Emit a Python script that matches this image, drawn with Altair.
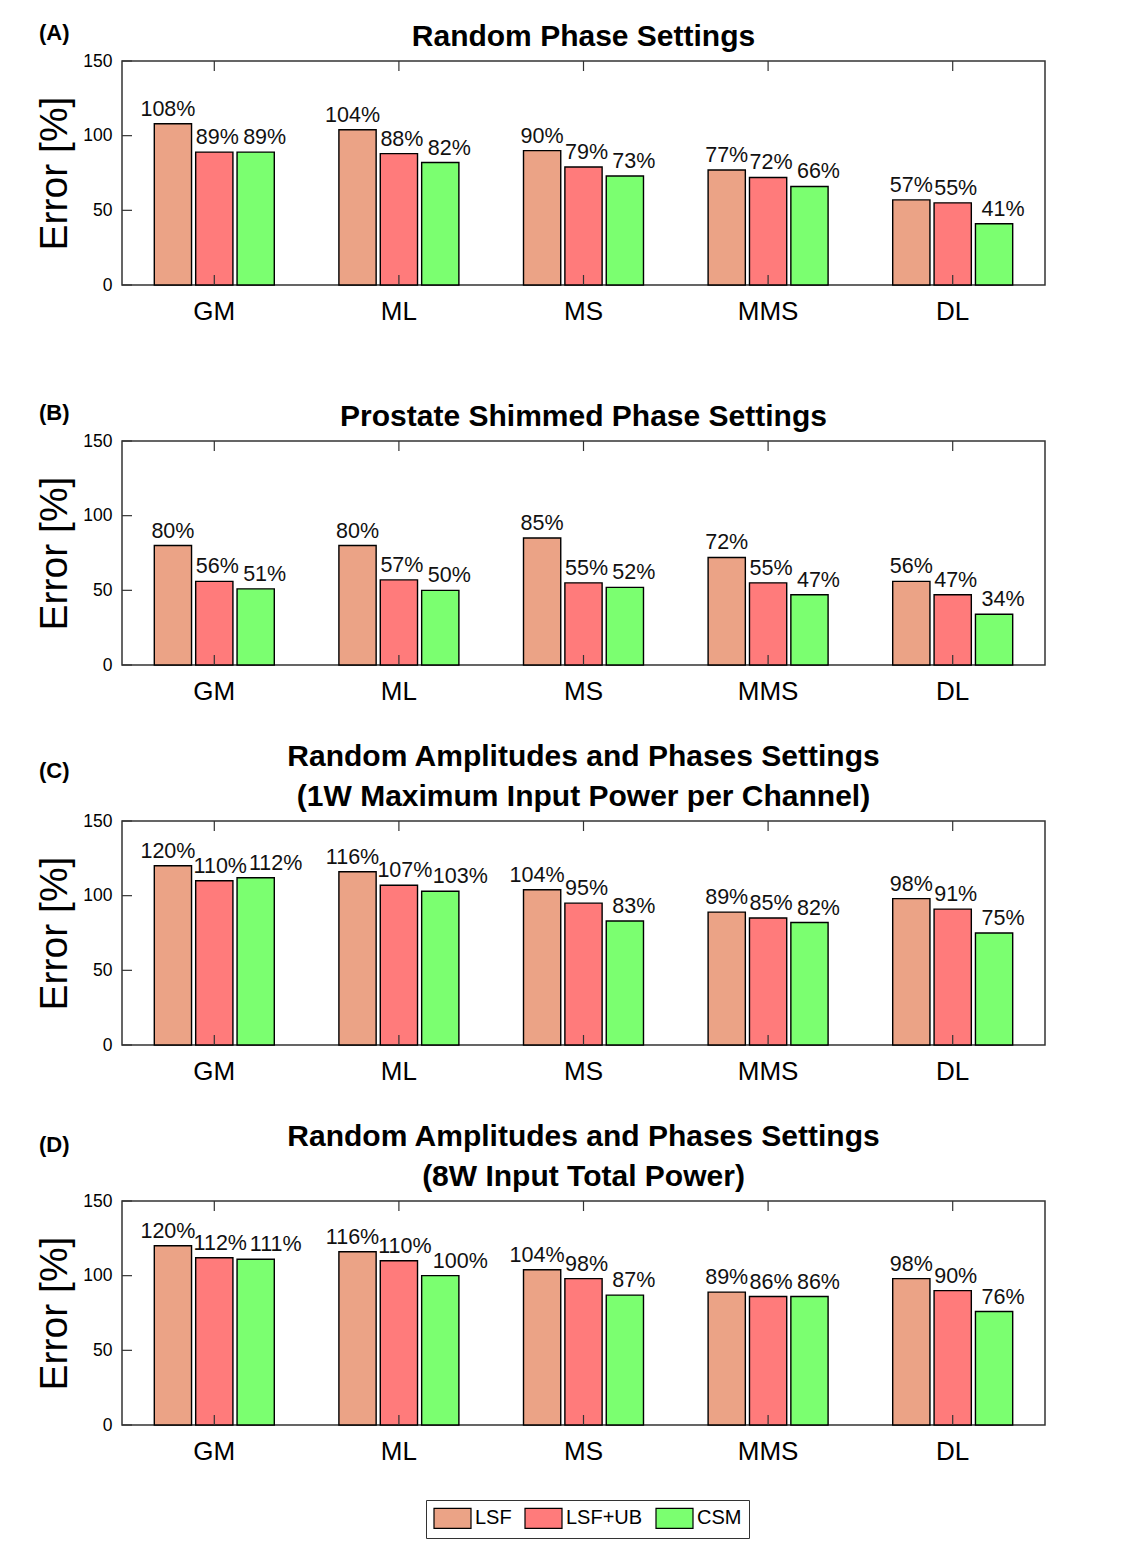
import altair as alt
import pandas as pd

groups = ["GM", "ML", "MS", "MMS", "DL"]
methods = ["LSF", "LSF+UB", "CSM"]
colors = ["#EBA386", "#FF7B7B", "#7BFF70"]

a_lsf = [108, 104, 90, 77, 57]
a_ub = [89, 88, 79, 72, 55]
a_csm = [89, 82, 73, 66, 41]

b_lsf = [80, 80, 85, 72, 56]
b_ub = [56, 57, 55, 55, 47]
b_csm = [51, 50, 52, 47, 34]

c_lsf = [120, 116, 104, 89, 98]
c_ub = [110, 107, 95, 85, 91]
c_csm = [112, 103, 83, 82, 75]

d_lsf = [120, 116, 104, 89, 98]
d_ub = [112, 110, 98, 86, 90]
d_csm = [111, 100, 87, 86, 76]

yticks = [0, 50, 100, 150]

# (letter, title lines, series, letter vertical position relative to plot top)
panels = [
    ("(A)", ["Random Phase Settings"], (a_lsf, a_ub, a_csm), -28),
    ("(B)", ["", "Prostate Shimmed Phase Settings"], (b_lsf, b_ub, b_csm), -28),
    ("(C)", ["Random Amplitudes and Phases Settings", "(1W Maximum Input Power per Channel)"], (c_lsf, c_ub, c_csm), -50),
    ("(D)", ["Random Amplitudes and Phases Settings", "(8W Input Total Power)"], (d_lsf, d_ub, d_csm), -56),
]

FONT = "Liberation Sans"
W, H = 923, 224
LETTER_SIZE = 22

xscale = alt.Scale(domain=groups, paddingInner=0.35, paddingOuter=0.175)
yscale = alt.Scale(domain=[0, 150], nice=False)
oscale = alt.Scale(domain=methods, paddingInner=0.1, paddingOuter=0)
cscale = alt.Scale(domain=methods, range=colors)

# wide swatch starting at the symbol slot's left edge
legend_symbol = "M-1,-1L2.7,-1L2.7,1L-1,1Z"

# label nudges (pixels) per method, for short (<100) and long (>=100) labels
label_dx = {"LSF": (0, -5), "LSF+UB": (3, 6), "CSM": (9, 20)}

legend = alt.Legend(orient="none", legendX=304, legendY=1439, direction="horizontal",
                    title=None, labelFontSize=20, labelFont=FONT, labelColor="black",
                    symbolType=legend_symbol, symbolSize=400, symbolStrokeColor="black",
                    symbolStrokeWidth=1.2, symbolOpacity=1, strokeColor="#333",
                    padding=7, columnPadding=10, labelOffset=20)


def make_panel(letter, title, series, letter_y):
    rows = []
    for m, vals in zip(methods, series):
        for g, v in zip(groups, vals):
            rows.append({"group": g, "method": m, "value": v, "label": f"{v}%"})
    df = pd.DataFrame(rows)

    x = alt.X("group:N", scale=xscale, sort=groups, title=None,
              axis=alt.Axis(labelAngle=0, labelFontSize=26, labelFont=FONT, labelColor="black",
                            ticks=False, domain=False, labelPadding=13))
    y = alt.Y("value:Q", scale=yscale, title="Error [%]",
              axis=alt.Axis(values=yticks, labelFontSize=17.5, labelFont=FONT, labelColor="black",
                            ticks=False, domain=False, grid=False, labelPadding=10,
                            titleFontSize=39, titleFont=FONT, titleFontWeight="normal",
                            titleColor="black", titlePadding=8))

    bars = alt.Chart(df).mark_bar(stroke="black", strokeWidth=1.4).encode(
        x=x,
        xOffset=alt.XOffset("method:N", scale=oscale, sort=methods),
        y=y,
        color=alt.Color("method:N", scale=cscale, sort=methods, legend=legend),
    )
    layers = [bars]
    for m in methods:
        for is_long, dxv in zip((False, True), label_dx[m]):
            cond = (f"datum.method == '{m}' && datum.value >= 100" if is_long
                    else f"datum.method == '{m}' && datum.value < 100")
            layers.append(
                alt.Chart(df).transform_filter(cond).mark_text(
                    baseline="bottom", dy=-3, dx=dxv, fontSize=21.5, font=FONT, color="#111"
                ).encode(
                    x=alt.X("group:N", sort=groups, title=None),
                    xOffset=alt.XOffset("method:N", sort=methods),
                    y=alt.Y("value:Q", title="Error [%]"),
                    text="label:N",
                )
            )
    ydf = pd.DataFrame({"value": yticks})
    layers.append(alt.Chart(ydf).mark_rule(color="#333", strokeWidth=1.2).encode(
        y=alt.Y("value:Q", title="Error [%]"), x=alt.value(0), x2=alt.value(10)))
    gdf = pd.DataFrame({"group": groups})
    layers.append(alt.Chart(gdf).mark_rule(color="#333", strokeWidth=1.2).encode(
        x=alt.X("group:N", sort=groups, title=None), y=alt.value(H - 10), y2=alt.value(H)))
    layers.append(alt.Chart(gdf).mark_rule(color="#333", strokeWidth=1.2).encode(
        x=alt.X("group:N", sort=groups, title=None), y=alt.value(0), y2=alt.value(10)))
    ldf = pd.DataFrame({"t": [letter]})
    layers.append(alt.Chart(ldf).mark_text(align="left", baseline="middle", fontSize=LETTER_SIZE,
                                           fontWeight="bold", font=FONT, color="black").encode(
        text="t:N", x=alt.value(-83), y=alt.value(letter_y)))

    # the letter's box sets the top of the marks' bounds; pull the title down past it
    letter_top = -letter_y + LETTER_SIZE / 2
    title_offset = 9 - letter_top

    return alt.layer(*layers).properties(
        width=W, height=H,
        title=alt.TitleParams(text=title, fontSize=30, font=FONT, fontWeight="bold",
                              color="black", offset=title_offset, lineHeight=40, anchor="middle",
                              frame="group"),
    )


charts = [make_panel(l, t, s, ly) for (l, t, s, ly) in panels]

chart = alt.vconcat(*charts, spacing=36).properties(
    padding={"left": 27, "top": 13, "right": 5, "bottom": 5}
).configure(background="white").configure_view(stroke="#333", strokeWidth=1.5)

chart.save("out.html", embed_options={"renderer": "svg", "actions": False})
